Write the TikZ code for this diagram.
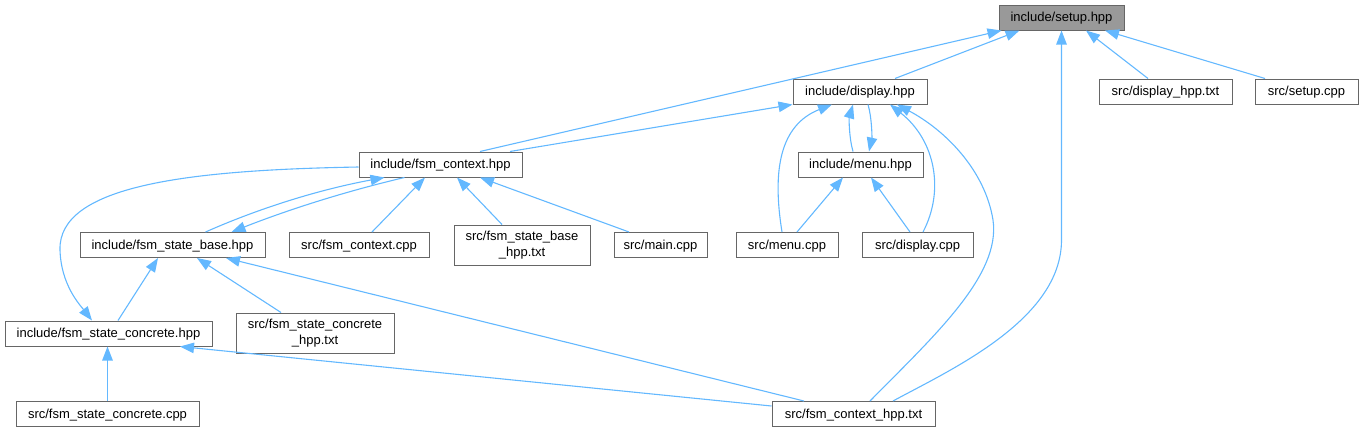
\documentclass[tikz,border=0pt]{standalone}
\usepackage{fontspec}
\setmainfont{Liberation Sans}
\usetikzlibrary{arrows.meta}
\definecolor{edgec}{HTML}{63B8FF}
\definecolor{boxborder}{HTML}{666666}
\definecolor{rootfill}{HTML}{999999}
\tikzset{
  boxbase/.style={draw=boxborder, line width=1pt, fill=white, inner sep=0pt, align=center,
    font=\fontsize{13}{15.5}\selectfont, minimum height=25pt},
  box/.style={boxbase, text height=10.5pt, text depth=2.5pt},
  twobox/.style={boxbase, minimum height=40pt},
  rootbox/.style={box, fill=rootfill},
  edge/.style={draw=edgec, line width=1.1pt, -{Triangle[length=14pt,width=10.5pt]}}
}
\begin{document}
\begin{tikzpicture}[x=1pt,y=-1pt]
\useasboundingbox (0,0) rectangle (1363,432);
% row 1
\node[rootbox, minimum width=125pt] (setup) at (1061.5,17.5) {include/setup.hpp};
% row 2
\node[box, minimum width=134pt] (display) at (860,91.5) {include/display.hpp};
\node[box, minimum width=133pt] (dtxt) at (1165.5,91.5) {src/display\_hpp.txt};
\node[box, minimum width=103pt] (scpp) at (1306.5,91.5) {src/setup.cpp};
% row 3
\node[box, minimum width=163pt] (fctx) at (440.5,164.5) {include/fsm\_context.hpp};
\node[box, minimum width=125pt] (menu) at (860.5,164.5) {include/menu.hpp};
% row 4
\node[box, minimum width=185pt] (fsb) at (172.5,245) {include/fsm\_state\_base.hpp};
\node[box, minimum width=140pt] (fccpp) at (359,245) {src/fsm\_context.cpp};
\node[twobox, minimum width=136pt] (fsbtxt) at (522,245) {src/fsm\_state\_base\\\_hpp.txt};
\node[box, minimum width=93pt] (maincpp) at (660.5,245) {src/main.cpp};
\node[box, minimum width=102pt] (menucpp) at (787,245) {src/menu.cpp};
\node[box, minimum width=111pt] (dispcpp) at (917.5,245) {src/display.cpp};
% row 5
\node[box, minimum width=207pt] (fsc) at (108.5,333.5) {include/fsm\_state\_concrete.hpp};
\node[twobox, minimum width=158pt] (fsctxt) at (315,333) {src/fsm\_state\_concrete\\\_hpp.txt};
% row 6
\node[box, minimum width=183pt] (fsccpp) at (107.5,414) {src/fsm\_state\_concrete.cpp};
\node[box, minimum width=163pt] (fctxtxt) at (853.5,414) {src/fsm\_context\_hpp.txt};
% edges to setup
\draw[edge] ([xshift=39.5pt]fctx.north) -- ([xshift=-60pt]setup.south);
\draw[edge] ([xshift=35pt]display.north) -- ([xshift=-42pt]setup.south);
\draw[edge] ([xshift=39.5pt]fctxtxt.north) .. controls (950,370) and (1061.5,320) .. (1061.5,240) -- (setup.south);
\draw[edge] ([xshift=-17.5pt]dtxt.north) -- ([xshift=24.5pt]setup.south);
\draw[edge] ([xshift=-41.5pt]scpp.north) -- ([xshift=43.5pt]setup.south);
% edges to display
\draw[edge] ([xshift=69.5pt]fctx.north) -- (display.south west);
\draw[edge] ([xshift=-7.5pt]menu.north) .. controls (849,138) and (849,118) .. ([xshift=-7pt]display.south);
\draw[edge] ([xshift=-5pt]menucpp.north) .. controls (772,170) and (780,125) .. ([xshift=-28pt]display.south);
\draw[edge] ([xshift=5.5pt]dispcpp.north) .. controls (945,190) and (935,140) .. ([xshift=30pt]display.south);
\draw[edge] ([xshift=16.5pt]fctxtxt.north) .. controls (935,335) and (1001,275) .. (993,220) .. controls (985,170) and (945,130) .. ([xshift=37pt]display.south);
% edges to menu
\draw[edge] ([xshift=8pt]display.south) .. controls (872,118) and (872,138) .. ([xshift=8.5pt]menu.north);
\draw[edge] ([xshift=10pt]menucpp.north) -- ([xshift=-17.5pt]menu.south);
\draw[edge] ([xshift=-7.5pt]dispcpp.north) -- ([xshift=10.5pt]menu.south);
% edges to fsm_context
\draw[edge] ([xshift=33pt]fsb.north) .. controls (262,207) and (322,189) .. ([xshift=-56pt]fctx.south);
\draw[edge] ([xshift=13pt]fccpp.north) -- ([xshift=-15.5pt]fctx.south);
\draw[edge] ([xshift=-20pt]fsbtxt.north) -- ([xshift=16.5pt]fctx.south);
\draw[edge] ([xshift=-31.5pt]maincpp.north) -- ([xshift=39.5pt]fctx.south);
% edges to fsm_state_base
\draw[edge] ([xshift=-36pt]fctx.south) .. controls (347,191) and (290,209) .. ([xshift=59pt]fsb.north);
\draw[edge] ([xshift=9.5pt]fsc.north) -- ([xshift=-14.5pt]fsb.south);
\draw[edge] ([xshift=-34pt]fsctxt.north) -- ([xshift=24.5pt]fsb.south);
\draw[edge] ([xshift=-49.5pt]fctxtxt.north) -- ([xshift=53.5pt]fsb.south);
% edges to fsm_state_concrete
\draw[edge] ([yshift=-2.5pt]fctx.west) .. controls (190,170) and (58,185) .. (60,250) .. controls (61,285) and (80,305) .. ([xshift=-16.5pt]fsc.north);
\draw[edge] ([yshift=8pt]fctxtxt.west) -- ([xshift=71.5pt]fsc.south);
\draw[edge] (fsccpp.north) -- (fsccpp.north |- fsc.south);
\end{tikzpicture}
\end{document}
